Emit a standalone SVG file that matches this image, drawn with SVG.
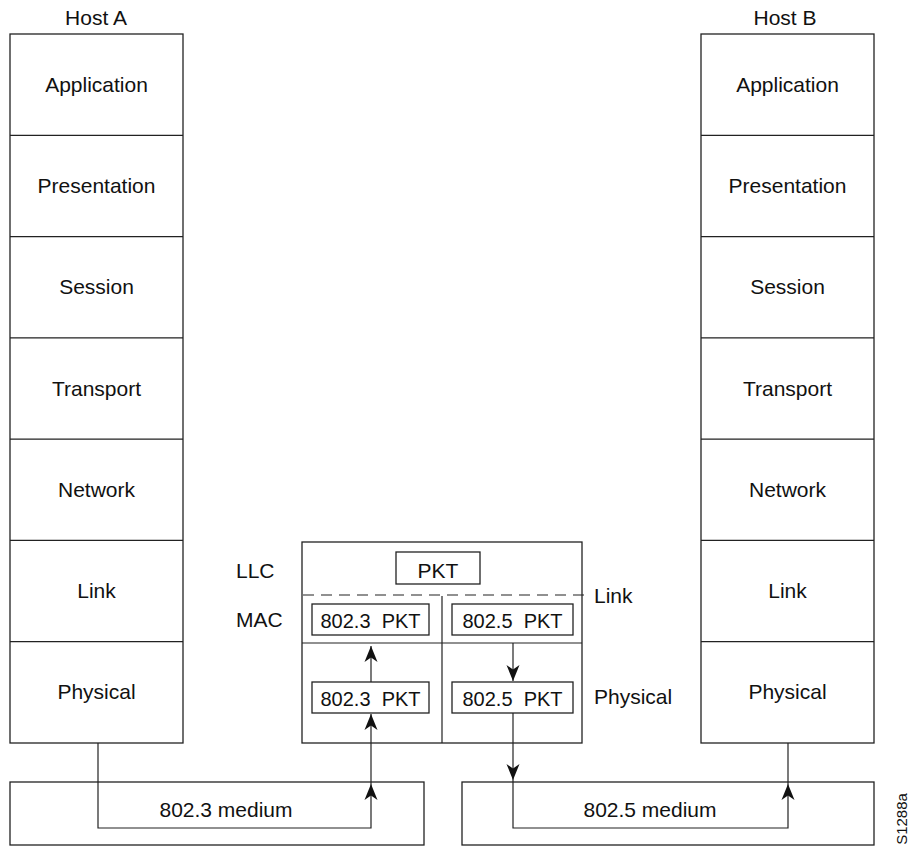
<svg xmlns="http://www.w3.org/2000/svg" width="909" height="846" viewBox="0 0 909 846">
<style>
.box{fill:#fff;stroke:#222;stroke-width:1.3}
.ln{fill:none;stroke:#222;stroke-width:1.2}
.t{font-family:"Liberation Sans",Arial,sans-serif;font-size:21px;fill:#111;text-anchor:middle}
.p{font-size:20px}
.ts{font-family:"Liberation Sans",Arial,sans-serif;font-size:21px;fill:#111}
</style>
<defs>
<marker id="ah" viewBox="0 0 16 14" refX="16" refY="7" markerWidth="16" markerHeight="14" orient="auto" markerUnits="userSpaceOnUse">
<path d="M0,0.5 L16,7 L0,13.5 L4.5,7 Z" fill="#111"/>
</marker>
</defs>
<rect width="909" height="846" fill="#fff"/>

<g id="hostA">
<text class="t" x="96" y="25">Host A</text>
<rect class="box" x="10" y="34" width="173" height="709"/>
<path class="ln" d="M10,135.3H183M10,236.6H183M10,337.9H183M10,439.1H183M10,540.4H183M10,641.7H183"/>
<text class="t" x="96.5" y="92">Application</text>
<text class="t" x="96.5" y="193">Presentation</text>
<text class="t" x="96.5" y="294">Session</text>
<text class="t" x="96.5" y="396">Transport</text>
<text class="t" x="96.5" y="497">Network</text>
<text class="t" x="96.5" y="598">Link</text>
<text class="t" x="96.5" y="699">Physical</text>
</g>

<g id="hostB">
<text class="t" x="785" y="25">Host B</text>
<rect class="box" x="701" y="34" width="173" height="709"/>
<path class="ln" d="M701,135.3H874M701,236.6H874M701,337.9H874M701,439.1H874M701,540.4H874M701,641.7H874"/>
<text class="t" x="787.5" y="92">Application</text>
<text class="t" x="787.5" y="193">Presentation</text>
<text class="t" x="787.5" y="294">Session</text>
<text class="t" x="787.5" y="396">Transport</text>
<text class="t" x="787.5" y="497">Network</text>
<text class="t" x="787.5" y="598">Link</text>
<text class="t" x="787.5" y="699">Physical</text>
</g>

<g id="bridge">
<text class="t" x="430" y="557">Bridge</text>
<rect class="box" x="302" y="542" width="280" height="201"/>
<path class="ln" d="M303,595H585" stroke-dasharray="11,7"/>
<path class="ln" d="M442,596V743M302,643H582"/>
<rect class="box" x="396" y="552" width="84" height="32"/>
<text class="t" x="438" y="578">PKT</text>
<rect class="box" x="312" y="604" width="117" height="31"/>
<text class="t p" x="370.5" y="628" xml:space="preserve">802.3  PKT</text>
<rect class="box" x="452" y="604" width="121" height="31"/>
<text class="t p" x="512.5" y="628" xml:space="preserve">802.5  PKT</text>
<rect class="box" x="312" y="682" width="117" height="31"/>
<text class="t p" x="370.5" y="706" xml:space="preserve">802.3  PKT</text>
<rect class="box" x="452" y="682" width="121" height="31"/>
<text class="t p" x="512.5" y="706" xml:space="preserve">802.5  PKT</text>
</g>

<g id="labels">
<text class="ts" x="236" y="578">LLC</text>
<text class="ts" x="236" y="627">MAC</text>
<text class="ts" x="594" y="603">Link</text>
<text class="ts" x="594" y="704">Physical</text>
</g>

<g id="medium3">
<rect class="box" x="10" y="782" width="414" height="63"/>
<text class="t" x="226" y="817">802.3 medium</text>
</g>
<g id="medium5">
<rect class="box" x="462" y="782" width="412" height="63"/>
<text class="t" x="650" y="817">802.5 medium</text>
</g>

<g id="connectors">
<path class="ln" d="M98,743V828H371V784" marker-end="url(#ah)"/>
<path class="ln" d="M371,784V714" marker-end="url(#ah)"/>
<path class="ln" d="M371,682V646" marker-end="url(#ah)"/>
<path class="ln" d="M513,643V681" marker-end="url(#ah)"/>
<path class="ln" d="M513,713V780" marker-end="url(#ah)"/>
<path class="ln" d="M513,780V828H788V784" marker-end="url(#ah)"/>
<path class="ln" d="M788,784V743"/>
</g>

<text font-family="Liberation Sans, Arial, sans-serif" font-size="15" fill="#111" text-anchor="middle" transform="translate(907,819) rotate(-90)">S1288a</text>
</svg>
